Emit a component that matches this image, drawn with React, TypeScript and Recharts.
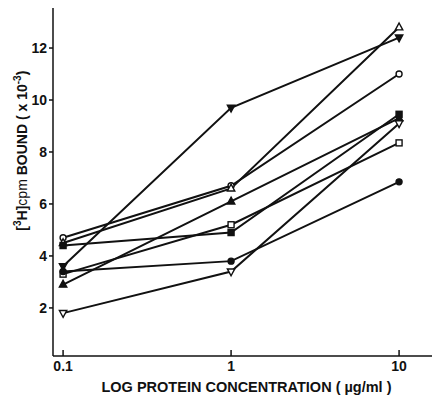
import { LineChart, Line, XAxis, YAxis } from "recharts";

// protein concentration (µg/ml), plotted on a log axis
const concentrations = [0.1, 1, 10];
const xTickLabels = ["0.1", "1", "10"];
const yTicks = [2, 4, 6, 8, 10, 12];

// [3H] cpm bound (x 10^-3), one array per preparation
const openCircle = [4.7, 6.7, 11.0];
const openTriangle = [4.5, 6.6, 12.8];
const filledDown = [3.6, 9.7, 12.4];
const filledTriangle = [2.9, 6.1, 9.3];
const openSquare = [3.3, 5.2, 8.35];
const filledSquare = [4.4, 4.9, 9.45];
const filledCircle = [3.4, 3.8, 6.85];
const openDown = [1.8, 3.4, 9.1];

const INK = "#111";
const FONT = "'Liberation Sans', Arial, sans-serif";

type Shape = "circle" | "square" | "up" | "down";

const SERIES: { key: string; values: number[]; shape: Shape; filled: boolean }[] = [
  { key: "openCircle", values: openCircle, shape: "circle", filled: false },
  { key: "openTriangle", values: openTriangle, shape: "up", filled: false },
  { key: "filledDown", values: filledDown, shape: "down", filled: true },
  { key: "filledTriangle", values: filledTriangle, shape: "up", filled: true },
  { key: "openSquare", values: openSquare, shape: "square", filled: false },
  { key: "filledSquare", values: filledSquare, shape: "square", filled: true },
  { key: "filledCircle", values: filledCircle, shape: "circle", filled: true },
  { key: "openDown", values: openDown, shape: "down", filled: false },
];

const rows = concentrations.map((c, i) => {
  const row: Record<string, number> = { x: Math.log10(c) };
  SERIES.forEach((s) => (row[s.key] = s.values[i]));
  return row;
});

function makeDot(shape: Shape, filled: boolean) {
  return (props: any) => {
    const { cx, cy, index } = props;
    const fill = filled ? INK : "#fff";
    const common = { stroke: INK, strokeWidth: 1.4, fill };
    const k = `${shape}-${filled}-${index}`;
    if (cx == null || cy == null) return <g key={k} />;
    if (shape === "circle") return <circle key={k} cx={cx} cy={cy} r={3} {...common} />;
    if (shape === "square")
      return <rect key={k} x={cx - 3} y={cy - 3} width={6} height={6} {...common} />;
    const d =
      shape === "up"
        ? `M${cx},${cy - 4.2} L${cx + 3.7},${cy + 2.6} L${cx - 3.7},${cy + 2.6} Z`
        : `M${cx},${cy + 4.2} L${cx + 3.7},${cy - 2.6} L${cx - 3.7},${cy - 2.6} Z`;
    return <path key={k} d={d} {...common} />;
  };
}

const XTick = (props: any) => {
  const { x, y, payload } = props;
  const idx = concentrations.findIndex((c) => Math.abs(Math.log10(c) - payload.value) < 1e-6);
  return (
    <g>
      <line x1={x} x2={x} y1={y} y2={y - 6} stroke={INK} strokeWidth={1.5} />
      <text x={x} y={y + 15} textAnchor="middle" fontSize={14} fontWeight="bold" fontFamily={FONT} fill={INK}>
        {xTickLabels[idx]}
      </text>
    </g>
  );
};

const YLabel = (props: any) => {
  const vb = props.viewBox || {};
  const cx = vb.x + 22;
  const cy = vb.y + vb.height * 0.41;
  return (
    <text
      x={cx}
      y={cy}
      transform={`rotate(-90 ${cx} ${cy})`}
      textAnchor="middle"
      dominantBaseline="central"
      fontSize={14}
      fontWeight="bold"
      fontFamily={FONT}
      fill={INK}
    >
      [<tspan fontSize={10} dy={-5}>3</tspan>
      <tspan dy={5}>H]</tspan>
      <tspan fontWeight="normal">cpm</tspan> BOUND ( x 10
      <tspan fontSize={10} dy={-5}>-3</tspan>
      <tspan dy={5}>)</tspan>
    </text>
  );
};

const XLabel = (props: any) => {
  const vb = props.viewBox || {};
  return (
    <text
      x={vb.x + vb.width / 2 + 4}
      y={vb.y + 36}
      textAnchor="middle"
      fontSize={14.5}
      fontWeight="bold"
      fontFamily={FONT}
      fill={INK}
    >
      LOG PROTEIN CONCENTRATION ( µg/ml )
    </text>
  );
};

export default function App() {
  return (
    <div style={{ position: "absolute", left: 0, top: 0, width: 437, height: 398, background: "#fff" }}>
      <LineChart width={437} height={398} data={rows} margin={{ top: 8, right: 5, left: 0, bottom: 0 }}>
        <XAxis
          dataKey="x"
          type="number"
          domain={[-1.06, 1.196]}
          ticks={concentrations.map((c) => Math.log10(c))}
          tickSize={0}
          tickMargin={0}
          tickLine={false}
          tick={<XTick />}
          axisLine={{ stroke: INK, strokeWidth: 1.5 }}
          height={42}
          label={XLabel}
        />
        <YAxis
          type="number"
          domain={[0.15, 13.54]}
          ticks={yTicks}
          width={53}
          tickSize={4}
          tickMargin={2}
          tickLine={{ stroke: INK, strokeWidth: 1.5 }}
          axisLine={{ stroke: INK, strokeWidth: 1.5 }}
          tick={{ fontSize: 14, fontWeight: "bold", fontFamily: FONT, fill: INK }}
          allowDataOverflow
          label={YLabel}
        />
        {SERIES.map((s) => (
          <Line
            key={s.key}
            dataKey={s.key}
            stroke={INK}
            strokeWidth={2}
            type="linear"
            dot={makeDot(s.shape, s.filled)}
            activeDot={false}
            isAnimationActive={false}
          />
        ))}
      </LineChart>
    </div>
  );
}
